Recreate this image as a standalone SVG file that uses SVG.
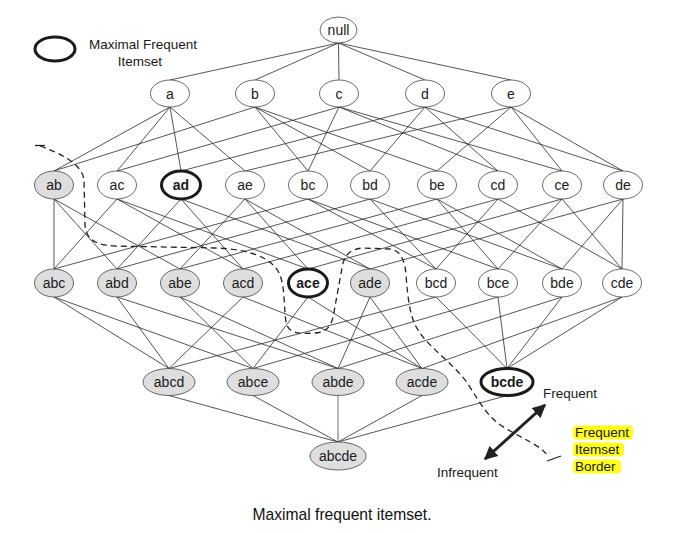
<svg xmlns="http://www.w3.org/2000/svg" width="677" height="533" viewBox="0 0 677 533">
  <style>
    .edge { stroke: #2a2a2a; stroke-width: 0.8; fill: none; }
    .edge-grey { stroke: #999; stroke-width: 1.4; fill: none; }
    .node { fill: #fff; stroke: #444; stroke-width: 0.8; }
    .freq { fill: #dedede; stroke: #444; stroke-width: 0.8; }
    .max { fill: #fff; stroke: #1a1a1a; stroke-width: 3; }
    .lbl { font-family: "Liberation Sans", Arial, sans-serif; font-size: 14px; fill: #1a1a1a; text-anchor: middle; }
    .bold { font-weight: bold; }
    .txt { font-family: "Liberation Sans", Arial, sans-serif; font-size: 13.5px; fill: #1a1a1a; }
    .border { fill: none; stroke: #222; stroke-width: 1.3; stroke-dasharray: 6 4; }
    .hl { fill: #ffff1a; }
  </style>
  <defs>
    <marker id="head" viewBox="0 0 10 10" refX="9" refY="5" markerWidth="4.5" markerHeight="4.5" orient="auto-start-reverse" markerUnits="strokeWidth">
      <path d="M0,0 L10,5 L0,10 z" fill="#222"/>
    </marker>
  </defs>

  <!-- legend -->
  <g id="legend">
    <ellipse cx="55" cy="49" rx="20" ry="12" class="max"/>
    <text class="txt" x="143" y="49" text-anchor="middle">Maximal Frequent</text>
    <text class="txt" x="140" y="66" text-anchor="middle">Itemset</text>
  </g>

  <!-- lattice edges -->
  <g id="connectors">
    <!-- null to 1-itemsets -->
    <line class="edge" x1="338.5" y1="43" x2="170" y2="80"/>
    <line class="edge" x1="338.5" y1="43" x2="255" y2="80"/>
    <line class="edge" x1="338.5" y1="43" x2="339" y2="80"/>
    <line class="edge" x1="338.5" y1="43" x2="425" y2="80"/>
    <line class="edge" x1="338.5" y1="43" x2="511" y2="80"/>
    <!-- 1-itemsets to 2-itemsets -->
    <line class="edge" x1="170" y1="107" x2="54" y2="171"/>
    <line class="edge" x1="170" y1="107" x2="117" y2="171"/>
    <line class="edge" x1="170" y1="107" x2="181" y2="171"/>
    <line class="edge" x1="170" y1="107" x2="245" y2="171"/>
    <line class="edge" x1="255" y1="107" x2="54" y2="171"/>
    <line class="edge" x1="255" y1="107" x2="308" y2="171"/>
    <line class="edge" x1="255" y1="107" x2="370" y2="171"/>
    <line class="edge" x1="255" y1="107" x2="437" y2="171"/>
    <line class="edge" x1="339" y1="107" x2="117" y2="171"/>
    <line class="edge" x1="339" y1="107" x2="308" y2="171"/>
    <line class="edge" x1="339" y1="107" x2="498" y2="171"/>
    <line class="edge" x1="339" y1="107" x2="562" y2="171"/>
    <line class="edge" x1="425" y1="107" x2="181" y2="171"/>
    <line class="edge" x1="425" y1="107" x2="370" y2="171"/>
    <line class="edge" x1="425" y1="107" x2="498" y2="171"/>
    <line class="edge" x1="425" y1="107" x2="623" y2="171"/>
    <line class="edge" x1="511" y1="107" x2="245" y2="171"/>
    <line class="edge" x1="511" y1="107" x2="437" y2="171"/>
    <line class="edge" x1="511" y1="107" x2="562" y2="171"/>
    <line class="edge" x1="511" y1="107" x2="623" y2="171"/>
    <!-- 2-itemsets to 3-itemsets -->
    <line class="edge" x1="54" y1="199" x2="54" y2="269"/>
    <line class="edge" x1="54" y1="199" x2="117" y2="269"/>
    <line class="edge" x1="54" y1="199" x2="180" y2="269"/>
    <line class="edge" x1="117" y1="199" x2="54" y2="269"/>
    <line class="edge" x1="117" y1="199" x2="243" y2="269"/>
    <line class="edge" x1="117" y1="199" x2="308" y2="269"/>
    <line class="edge" x1="181" y1="199" x2="117" y2="269"/>
    <line class="edge" x1="181" y1="199" x2="243" y2="269"/>
    <line class="edge" x1="181" y1="199" x2="370" y2="269"/>
    <line class="edge" x1="245" y1="199" x2="180" y2="269"/>
    <line class="edge" x1="245" y1="199" x2="308" y2="269"/>
    <line class="edge" x1="245" y1="199" x2="370" y2="269"/>
    <line class="edge" x1="308" y1="199" x2="54" y2="269"/>
    <line class="edge" x1="308" y1="199" x2="436" y2="269"/>
    <line class="edge" x1="308" y1="199" x2="498" y2="269"/>
    <line class="edge" x1="370" y1="199" x2="117" y2="269"/>
    <line class="edge" x1="370" y1="199" x2="436" y2="269"/>
    <line class="edge" x1="370" y1="199" x2="562" y2="269"/>
    <line class="edge" x1="437" y1="199" x2="180" y2="269"/>
    <line class="edge" x1="437" y1="199" x2="498" y2="269"/>
    <line class="edge" x1="437" y1="199" x2="562" y2="269"/>
    <line class="edge" x1="498" y1="199" x2="243" y2="269"/>
    <line class="edge" x1="498" y1="199" x2="436" y2="269"/>
    <line class="edge" x1="498" y1="199" x2="622" y2="269"/>
    <line class="edge" x1="562" y1="199" x2="308" y2="269"/>
    <line class="edge" x1="562" y1="199" x2="498" y2="269"/>
    <line class="edge" x1="562" y1="199" x2="622" y2="269"/>
    <line class="edge" x1="623" y1="199" x2="370" y2="269"/>
    <line class="edge" x1="623" y1="199" x2="562" y2="269"/>
    <line class="edge" x1="623" y1="199" x2="622" y2="269"/>
    <!-- 3-itemsets to 4-itemsets -->
    <line class="edge" x1="54" y1="297" x2="169" y2="368.5"/>
    <line class="edge" x1="54" y1="297" x2="253" y2="368.5"/>
    <line class="edge" x1="117" y1="297" x2="169" y2="368.5"/>
    <line class="edge" x1="117" y1="297" x2="338" y2="368.5"/>
    <line class="edge" x1="180" y1="297" x2="253" y2="368.5"/>
    <line class="edge" x1="180" y1="297" x2="338" y2="368.5"/>
    <line class="edge" x1="243" y1="297" x2="169" y2="368.5"/>
    <line class="edge" x1="243" y1="297" x2="422" y2="368.5"/>
    <line class="edge" x1="308" y1="297" x2="253" y2="368.5"/>
    <line class="edge" x1="308" y1="297" x2="422" y2="368.5"/>
    <line class="edge" x1="370" y1="297" x2="338" y2="368.5"/>
    <line class="edge" x1="370" y1="297" x2="422" y2="368.5"/>
    <line class="edge" x1="436" y1="297" x2="169" y2="368.5"/>
    <line class="edge" x1="436" y1="297" x2="507" y2="368.5"/>
    <line class="edge" x1="498" y1="297" x2="253" y2="368.5"/>
    <line class="edge" x1="498" y1="297" x2="507" y2="368.5"/>
    <line class="edge" x1="562" y1="297" x2="338" y2="368.5"/>
    <line class="edge" x1="562" y1="297" x2="507" y2="368.5"/>
    <line class="edge" x1="622" y1="297" x2="422" y2="368.5"/>
    <line class="edge" x1="622" y1="297" x2="507" y2="368.5"/>
    <!-- 4-itemsets to abcde -->
    <line class="edge" x1="169" y1="395.5" x2="338" y2="442"/>
    <line class="edge" x1="253" y1="395.5" x2="338" y2="442"/>
    <line class="edge-grey" x1="338" y1="395.5" x2="338" y2="442"/>
    <line class="edge" x1="422" y1="395.5" x2="338" y2="442"/>
    <line class="edge" x1="507" y1="395.5" x2="338" y2="442"/>
  </g>

  <!-- nodes -->
  <g id="n-null"><ellipse cx="338.5" cy="30" rx="18.5" ry="13" class="node"/><text class="lbl" x="338.5" y="35">null</text></g>

  <g id="n-a"><ellipse cx="170" cy="93.5" rx="19.5" ry="13.5" class="node"/><text class="lbl" x="170" y="98.5">a</text></g>
  <g id="n-b"><ellipse cx="255" cy="93.5" rx="19.5" ry="13.5" class="node"/><text class="lbl" x="255" y="98.5">b</text></g>
  <g id="n-c"><ellipse cx="339" cy="93.5" rx="19.5" ry="13.5" class="node"/><text class="lbl" x="339" y="98.5">c</text></g>
  <g id="n-d"><ellipse cx="425" cy="93.5" rx="19.5" ry="13.5" class="node"/><text class="lbl" x="425" y="98.5">d</text></g>
  <g id="n-e"><ellipse cx="511" cy="93.5" rx="19.5" ry="13.5" class="node"/><text class="lbl" x="511" y="98.5">e</text></g>

  <g id="n-ab"><ellipse cx="54" cy="185" rx="19.5" ry="14" class="freq"/><text class="lbl" x="54" y="190">ab</text></g>
  <g id="n-ac"><ellipse cx="117" cy="185" rx="19.5" ry="14" class="node"/><text class="lbl" x="117" y="190">ac</text></g>
  <g id="n-ad"><ellipse cx="181" cy="185" rx="19.5" ry="14" class="max"/><text class="lbl bold" x="181" y="190">ad</text></g>
  <g id="n-ae"><ellipse cx="245" cy="185" rx="19.5" ry="14" class="node"/><text class="lbl" x="245" y="190">ae</text></g>
  <g id="n-bc"><ellipse cx="308" cy="185" rx="19.5" ry="14" class="node"/><text class="lbl" x="308" y="190">bc</text></g>
  <g id="n-bd"><ellipse cx="370" cy="185" rx="19.5" ry="14" class="node"/><text class="lbl" x="370" y="190">bd</text></g>
  <g id="n-be"><ellipse cx="437" cy="185" rx="19.5" ry="14" class="node"/><text class="lbl" x="437" y="190">be</text></g>
  <g id="n-cd"><ellipse cx="498" cy="185" rx="19.5" ry="14" class="node"/><text class="lbl" x="498" y="190">cd</text></g>
  <g id="n-ce"><ellipse cx="562" cy="185" rx="19.5" ry="14" class="node"/><text class="lbl" x="562" y="190">ce</text></g>
  <g id="n-de"><ellipse cx="623" cy="185" rx="19.5" ry="14" class="node"/><text class="lbl" x="623" y="190">de</text></g>

  <g id="n-abc"><ellipse cx="54" cy="283" rx="19.5" ry="14" class="freq"/><text class="lbl" x="54" y="288">abc</text></g>
  <g id="n-abd"><ellipse cx="117" cy="283" rx="19.5" ry="14" class="freq"/><text class="lbl" x="117" y="288">abd</text></g>
  <g id="n-abe"><ellipse cx="180" cy="283" rx="19.5" ry="14" class="freq"/><text class="lbl" x="180" y="288">abe</text></g>
  <g id="n-acd"><ellipse cx="243" cy="283" rx="19.5" ry="14" class="freq"/><text class="lbl" x="243" y="288">acd</text></g>
  <g id="n-ace"><ellipse cx="308" cy="283" rx="19.5" ry="14" class="max"/><text class="lbl bold" x="308" y="288">ace</text></g>
  <g id="n-ade"><ellipse cx="370" cy="283" rx="19.5" ry="14" class="freq"/><text class="lbl" x="370" y="288">ade</text></g>
  <g id="n-bcd"><ellipse cx="436" cy="283" rx="19.5" ry="14" class="node"/><text class="lbl" x="436" y="288">bcd</text></g>
  <g id="n-bce"><ellipse cx="498" cy="283" rx="19.5" ry="14" class="node"/><text class="lbl" x="498" y="288">bce</text></g>
  <g id="n-bde"><ellipse cx="562" cy="283" rx="19.5" ry="14" class="node"/><text class="lbl" x="562" y="288">bde</text></g>
  <g id="n-cde"><ellipse cx="622" cy="283" rx="19.5" ry="14" class="node"/><text class="lbl" x="622" y="288">cde</text></g>

  <g id="n-abcd"><ellipse cx="169" cy="382" rx="26" ry="13.5" class="freq"/><text class="lbl" x="169" y="387">abcd</text></g>
  <g id="n-abce"><ellipse cx="253" cy="382" rx="26" ry="13.5" class="freq"/><text class="lbl" x="253" y="387">abce</text></g>
  <g id="n-abde"><ellipse cx="338" cy="382" rx="26" ry="13.5" class="freq"/><text class="lbl" x="338" y="387">abde</text></g>
  <g id="n-acde"><ellipse cx="422" cy="382" rx="26" ry="13.5" class="freq"/><text class="lbl" x="422" y="387">acde</text></g>
  <g id="n-bcde"><ellipse cx="507" cy="382" rx="26" ry="13.5" class="max"/><text class="lbl bold" x="507" y="387">bcde</text></g>

  <g id="n-abcde"><ellipse cx="338" cy="456" rx="28" ry="14" class="freq"/><text class="lbl" x="338" y="461">abcde</text></g>

  <!-- frequent / infrequent border -->
  <g id="border">
    <line x1="35" y1="145.5" x2="45" y2="145.5" stroke="#222" stroke-width="1.3"/>
    <path class="border" d="M40,146 C62,154 82,164 84,180 L85,225 C86,240 96,245 115,246 L215,248 C250,249 273,258 280,275 C285,288 284,310 286,322 C288,334 300,334 315,333 C328,332 332,325 334,312 L342,268 C344,255 350,249 363,248 L390,249 C400,250 405,260 406,275 C408,300 410,320 420,333 C430,348 455,365 468,384 C480,403 488,418 505,428 C525,440 540,445 548,456"/>
    <line x1="547" y1="461" x2="561" y2="456" stroke="#222" stroke-width="1.3"/>
  </g>

  <!-- direction arrow -->
  <g id="direction">
    <line x1="485" y1="459" x2="545" y2="405" stroke="#222" stroke-width="3" marker-start="url(#head)" marker-end="url(#head)"/>
    <text class="txt" x="543" y="398">Frequent</text>
    <text class="txt" x="437" y="477">Infrequent</text>
  </g>

  <!-- highlighted label -->
  <g id="border-label">
    <rect class="hl" x="573" y="425.5" width="60" height="14" rx="4"/>
    <rect class="hl" x="573" y="442.5" width="51" height="14" rx="4"/>
    <rect class="hl" x="573" y="459.5" width="48" height="14" rx="4"/>
    <text class="txt" x="575" y="437">Frequent</text>
    <text class="txt" x="575" y="454">Itemset</text>
    <text class="txt" x="575" y="471">Border</text>
  </g>

  <text x="342" y="520" font-family="Liberation Sans, Arial, sans-serif" font-size="17" fill="#111" text-anchor="middle" textLength="179" lengthAdjust="spacingAndGlyphs">Maximal frequent itemset.</text>
</svg>
